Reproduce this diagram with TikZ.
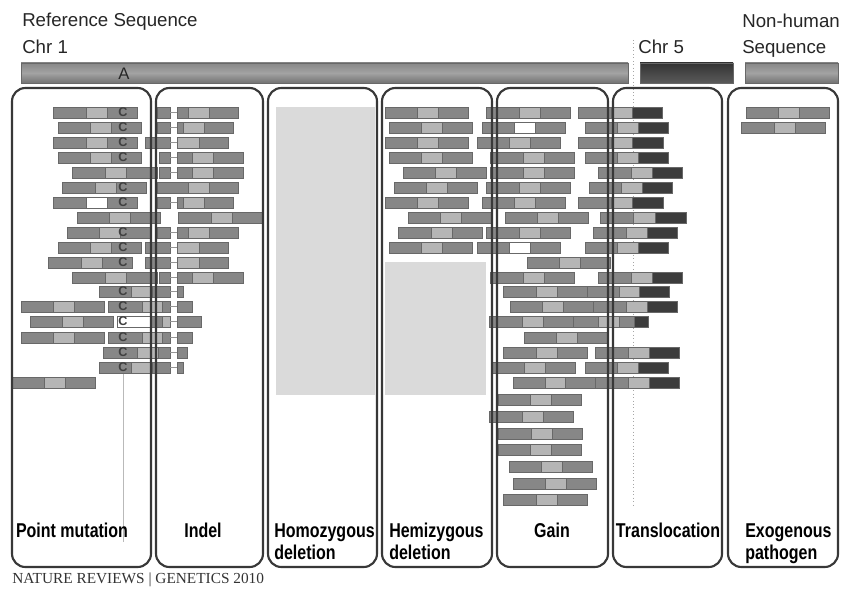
\documentclass[tikz,border=0pt]{standalone}
\usepackage{fontspec}
\setmainfont{Liberation Sans}
\newfontfamily\condsans[FakeStretch=0.8]{Liberation Sans}
\newfontfamily\journalfont{Liberation Serif}
\usetikzlibrary{calc}
\definecolor{readdark}{HTML}{878787}
\definecolor{readlight}{HTML}{B5B5B5}
\definecolor{readedge}{HTML}{686868}
\definecolor{chrdark}{HTML}{3C3C3C}
\definecolor{delfill}{HTML}{DADADA}
\newcommand{\readpiece}[4]{\path[readseg, fill=#4] (#1,#3) rectangle (#2,#3+11);}
\newcommand{\readbar}[3]{\readpiece{#1}{#2}{#3}{readdark}\path[readseg, fill=readlight] ($(#1,#3)!0.39!(#2,#3)$) rectangle ($(#1,#3+11)!0.64!(#2,#3+11)$);}
\newcommand{\readwhite}[3]{\readpiece{#1}{#2}{#3}{readdark}\path[readseg, fill=white] ($(#1,#3)!0.39!(#2,#3)$) rectangle ($(#1,#3+11)!0.64!(#2,#3+11)$);}
\newcommand{\readtrans}[3]{\readbar{#1}{#2}{#3}\path[readseg, fill=chrdark] ($(#1,#3)!0.64!(#2,#3)$) rectangle (#2,#3+11);}
\newcommand{\readsplit}[5]{\readpiece{#1}{170}{#5}{readdark}\draw[delline] (170,#5+5.5) -- (177,#5+5.5);\readpiece{177}{#4}{#5}{readdark}\readpiece{#2}{#3}{#5}{readlight}}
\newcommand{\readsplitl}[5]{\readpiece{#1}{170}{#5}{readdark}\readpiece{#2}{#3}{#5}{readlight}\draw[delline] (170,#5+5.5) -- (177,#5+5.5);\readpiece{177}{#4}{#5}{readdark}}

\begin{document}
\begin{tikzpicture}[x=0.75pt, y=-0.75pt, readseg/.style={draw=readedge, line width=0.35pt}, delline/.style={draw=readedge!70, line width=0.5pt}, panel/.style={draw=black!78, line width=1.6pt, rounded corners=10pt}, toplabel/.style={font=\fontsize{14}{16}\selectfont, anchor=base west, inner sep=0pt, text=black!85}, typelabel/.style={font=\condsans\bfseries\fontsize{15}{17}\selectfont, anchor=base, inner sep=0pt}, snp/.style={font=\bfseries\fontsize{9.5}{10}\selectfont, text=black!75, inner sep=0pt}, chrbar/.style={draw=readedge, top color=readdark, bottom color=readdark!85!black, middle color=readlight!60!readdark}]
\useasboundingbox (0,0) rectangle (841,588);
\fill[delfill] (276,107) rectangle (375,395);
\fill[delfill] (385,262) rectangle (486,395);
\draw[gray!70, dotted, line width=0.6pt] (633,40) -- (633,505);
\draw[gray!55, line width=0.6pt] (123,373) -- (123,542);
% point mutation
\foreach \a/\b/\y in {53/137/107, 58/141/122, 53/137/137, 58/141/152, 72/157/167, 62/146/182, 77/160/212, 67/150/227, 58/141/242, 48/132/257, 72/157/272, 21/104/301, 30/113/316, 21/104/332, 12/95/377} {\readbar{\a}{\b}{\y}}
\readwhite{53}{137}{197}
\foreach \a/\l/\m/\e/\y in {99/131/152/183/286, 108/142/162/192/301, 117/162/170/201/316, 108/142/162/192/332, 103/137/158/187/347, 99/131/152/183/362} {\readsplitl{\a}{\l}{\m}{\e}{\y}}
\readpiece{117}{150}{316}{white}
% indel
\foreach \a/\l/\m/\e/\y in {157/188/209/238/107, 157/183/204/233/122, 145/177/199/228/137, 159/192/213/243/152, 159/192/213/243/167, 157/183/204/233/197, 157/188/209/238/227, 145/177/199/228/242, 145/177/199/228/257, 159/192/213/243/272} {\readsplit{\a}{\l}{\m}{\e}{\y}}
\readbar{157}{238}{182}
\readbar{178}{262}{212}
% hemizygous deletion
\foreach \a/\b/\y in {385/468/107, 389/472/122, 385/468/137, 389/472/152, 403/486/167, 394/477/182, 385/468/197, 408/491/212, 398/482/227, 389/472/242} {\readbar{\a}{\b}{\y}}
% gain
\foreach \a/\b/\y in {486/570/107, 477/560/137, 490/574/152, 490/574/167, 486/570/182, 482/565/197, 505/588/212, 486/570/227, 527/610/257, 490/574/272, 503/587/286, 510/593/301, 489/573/316, 524/607/332, 503/587/347, 492/575/362, 513/595/377, 498/581/394, 489/573/411, 498/582/428, 498/581/444, 509/592/461, 513/596/478, 503/587/494} {\readbar{\a}{\b}{\y}}
\readwhite{482}{565}{122}
\readwhite{477}{560}{242}
% translocation
\foreach \a/\b/\y in {578/662/107, 585/668/122, 578/663/137, 585/668/152, 598/682/167, 589/672/182, 578/663/197, 600/686/212, 593/677/227, 585/668/242, 598/682/272, 587/669/286, 593/677/301, 595/679/347, 585/668/362, 595/679/377} {\readtrans{\a}{\b}{\y}}
\readpiece{573}{648}{316}{readdark}
\readpiece{598}{619}{316}{readlight}
\readpiece{634}{648}{316}{chrdark}
% exogenous
\readbar{746}{829}{107}
\readbar{741}{825}{122}
\foreach \y [count=\i] in {107,122,137,152,182,197,227,242,257,286,301,316,332,347,362} \node[snp] (snp\i) at (123,\y+5.5) {C};
\draw[panel] (12,88) rectangle (151,567);
\draw[panel] (156,88) rectangle (263,567);
\draw[panel] (268,88) rectangle (377,567);
\draw[panel] (382,88) rectangle (492,567);
\draw[panel] (497,88) rectangle (608,567);
\draw[panel] (613,88) rectangle (722,567);
\draw[panel] (728,88) rectangle (838,567);
\path[chrbar] (21,63) rectangle (628,83);
\path[chrbar, top color=black!80, bottom color=black!65, middle color=black!72] (640,63) rectangle (733,83);
\path[chrbar] (745,63) rectangle (838,83);
\node[toplabel] (refseq) at (22,27) {Reference Sequence};
\node[toplabel] (chrone) at (22,54) {Chr 1};
\node[toplabel] (chrfive) at (638,54) {Chr 5};
\node[toplabel] (nonhuman) at (742,28) {Non-human};
\node[toplabel] (nonhumanB) at (742,54) {Sequence};
\node[font=\fontsize{12.5}{14}\selectfont, text=black!85, anchor=base, inner sep=0pt] (allele) at (124,80) {A};
\node[typelabel] (pointmut) at (72,537) {Point mutation};
\node[typelabel] (indel) at (203,537) {Indel};
\node[typelabel, anchor=base west] (homo) at (274,537) {Homozygous};
\node[typelabel, anchor=base west] (homoB) at (274,559) {deletion};
\node[typelabel, anchor=base west] (hemi) at (389,537) {Hemizygous};
\node[typelabel, anchor=base west] (hemiB) at (389,559) {deletion};
\node[typelabel] (gain) at (552,537) {Gain};
\node[typelabel] (transloc) at (668,537) {Translocation};
\node[typelabel, anchor=base west] (exo) at (745,537) {Exogenous};
\node[typelabel, anchor=base west] (exoB) at (745,559) {pathogen};
\node[font=\journalfont\fontsize{11.5}{13}\selectfont, text=black!80, anchor=base west, inner sep=0pt] (credit) at (12,583) {NATURE REVIEWS | GENETICS 2010};
\end{tikzpicture}
\end{document}
